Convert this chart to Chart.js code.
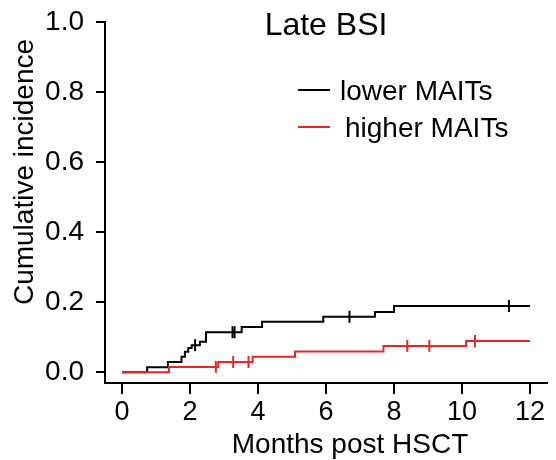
<!DOCTYPE html>
<html>
<head>
<meta charset="utf-8">
<script src="https://cdn.jsdelivr.net/npm/chart.js@4"></script>
<style>
  html, body { margin: 0; padding: 0; background: #fff; }
  #wrap { width: 556px; height: 460px; }
</style>
</head>
<body>
<div id="wrap"><canvas id="ciChart" width="556" height="460"></canvas></div>
<script>
// step curves (months, cumulative incidence)
const lowerTimes = [0, 0.74, 1.35, 1.75, 1.85, 1.95, 2.05, 2.29, 2.47, 3.52, 4.12, 5.92, 7.44, 8.0, 12];
const lowerCI = [0, 0.014, 0.029, 0.044, 0.058, 0.069, 0.077, 0.087, 0.114, 0.129, 0.144, 0.158, 0.172, 0.189, 0.189];
const higherTimes = [0, 1.38, 2.83, 3.84, 5.09, 7.69, 10.12, 12];
const higherCI = [0, 0.015, 0.029, 0.044, 0.059, 0.075, 0.089, 0.089];

// censoring marks
const lowerCensor = [2.15, 3.25, 3.31, 6.69, 11.38];
const higherCensor = [2.76, 3.27, 3.72, 8.39, 9.04, 10.38];

const xTicks = [0, 2, 4, 6, 8, 10, 12];
const yTicks = [0, 0.2, 0.4, 0.6, 0.8, 1.0];
const seriesNames = ['lower MAITs', 'higher MAITs'];

const BLACK = '#000000';
const RED = '#ec2327';
const FONT = "'Liberation Sans', Arial, sans-serif";

const toPoints = (xs, ys) => xs.map((x, i) => ({ x: x, y: ys[i] }));
// value of a step curve at time t
const stepAt = (xs, ys, t) => {
  let v = ys[0];
  for (let i = 0; i < xs.length; i++) if (xs[i] <= t) v = ys[i];
  return v;
};
const censorPoints = (ts, xs, ys) => ts.map(t => ({ x: t, y: stepAt(xs, ys, t) }));

const overlay = {
  id: 'overlay',
  afterDraw(chart) {
    const { ctx, chartArea } = chart;
    const cx = (chartArea.left + chartArea.right) / 2;
    ctx.save();
    ctx.fillStyle = '#000';
    ctx.textBaseline = 'alphabetic';

    // title
    ctx.font = '32px ' + FONT;
    ctx.textAlign = 'center';
    ctx.fillText('Late BSI', cx, chartArea.top + 13);

    // x axis title (sits a bit right of centre in the original)
    ctx.font = '28px ' + FONT;
    ctx.fillText('Months post HSCT', cx + 24, chartArea.bottom + 70);

    // legend
    ctx.textAlign = 'left';
    const lx = chartArea.left + 193;
    const rows = [
      { label: seriesNames[0], color: BLACK, y: chartArea.top + 68, dx: 0 },
      { label: seriesNames[1], color: RED, y: chartArea.top + 105, dx: 5 }
    ];
    rows.forEach(r => {
      ctx.strokeStyle = r.color;
      ctx.lineWidth = 2;
      ctx.beginPath();
      ctx.moveTo(lx, r.y);
      ctx.lineTo(lx + 32, r.y);
      ctx.stroke();
      ctx.fillStyle = '#000';
      ctx.fillText(r.label, lx + 42 + r.dx, r.y + 10);
    });

    // y axis title
    ctx.save();
    ctx.translate(33, chartArea.top + 150);
    ctx.rotate(-Math.PI / 2);
    ctx.textAlign = 'center';
    ctx.font = '28px ' + FONT;
    ctx.fillText('Cumulative incidence', 0, 0);
    ctx.restore();

    ctx.restore();
  }
};

new Chart(document.getElementById('ciChart'), {
  type: 'scatter',
  data: {
    datasets: [
      {
        label: seriesNames[1],
        data: toPoints(higherTimes, higherCI),
        showLine: true,
        stepped: true,
        borderColor: RED,
        borderWidth: 2,
        pointRadius: 0
      },
      {
        label: seriesNames[1] + ' censored',
        data: censorPoints(higherCensor, higherTimes, higherCI),
        showLine: false,
        pointStyle: 'line',
        rotation: 90,
        pointRadius: 6,
        borderColor: RED,
        borderWidth: 2
      },
      {
        label: seriesNames[0],
        data: toPoints(lowerTimes, lowerCI),
        showLine: true,
        stepped: true,
        borderColor: BLACK,
        borderWidth: 2,
        pointRadius: 0
      },
      {
        label: seriesNames[0] + ' censored',
        data: censorPoints(lowerCensor, lowerTimes, lowerCI),
        showLine: false,
        pointStyle: 'line',
        rotation: 90,
        pointRadius: 6,
        borderColor: BLACK,
        borderWidth: 2
      }
    ]
  },
  options: {
    responsive: false,
    animation: false,
    layout: { padding: { top: 22, right: 9, left: 0, bottom: 0 } },
    plugins: {
      legend: { display: false },
      tooltip: { enabled: false },
      title: { display: false }
    },
    scales: {
      x: {
        type: 'linear',
        min: -0.5,
        max: 12.5,
        afterBuildTicks: s => { s.ticks = xTicks.map(v => ({ value: v })); },
        afterFit: s => { s.height = 77; s.paddingLeft = 0; s.paddingRight = 0; },
        border: { color: BLACK, width: 2 },
        grid: { drawOnChartArea: false, color: BLACK, lineWidth: 2, tickLength: 11 },
        ticks: { color: BLACK, font: { family: FONT, size: 27 }, padding: 2, maxRotation: 0 }
      },
      y: {
        type: 'linear',
        min: -0.031,
        max: 1.0,
        afterBuildTicks: s => { s.ticks = yTicks.map(v => ({ value: v })); },
        afterFit: s => { s.width = 105; s.paddingTop = 0; s.paddingBottom = 0; },
        border: { color: BLACK, width: 2 },
        grid: { drawOnChartArea: false, color: BLACK, lineWidth: 2, tickLength: 9 },
        ticks: {
          color: BLACK,
          font: { family: FONT, size: 28 },
          padding: 12,
          callback: v => v.toFixed(1)
        }
      }
    }
  },
  plugins: [overlay]
});
</script>
</body>
</html>
